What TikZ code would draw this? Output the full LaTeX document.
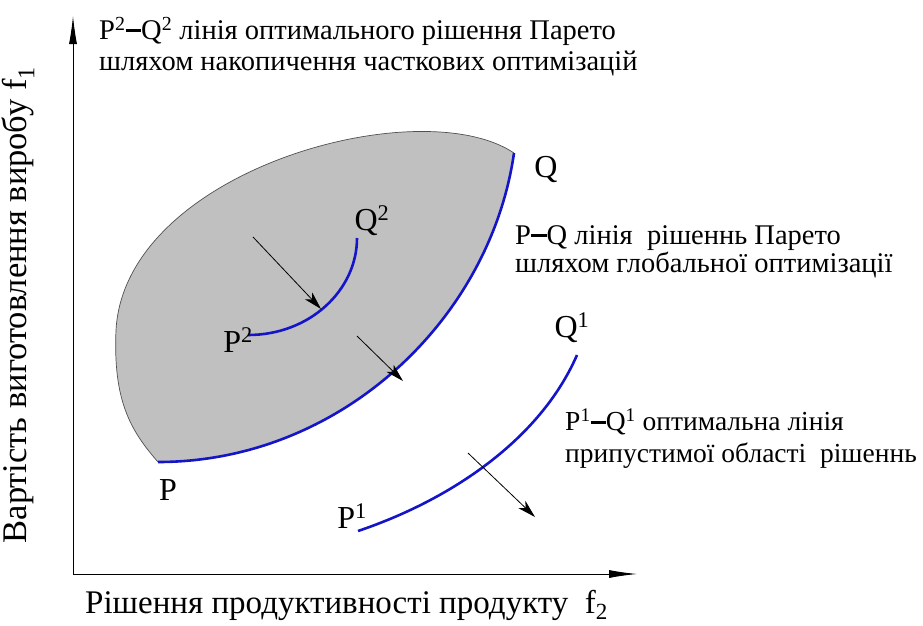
\documentclass[tikz,border=0pt]{standalone}
\usepackage{fontspec}
\setmainfont{Liberation Serif}
\usetikzlibrary{arrows.meta}
\definecolor{paretoblue}{RGB}{20,20,200}
\definecolor{regiongray}{RGB}{192,192,192}
\definecolor{edgegray}{RGB}{80,80,80}
\newcommand{\pqdash}{\rule[0.26em]{0.55em}{0.09em}}
\begin{document}
\begin{tikzpicture}[x=1pt,y=-1pt,
  lbl/.style={font=\fontsize{28.5}{31}\selectfont, inner sep=0pt},
  axlbl/.style={font=\fontsize{33}{36}\selectfont, inner sep=0pt},
  ptlbl/.style={font=\fontsize{32}{33}\selectfont, inner sep=0pt},
  axis/.style={line width=0.9pt, -{Latex[length=28pt,width=8pt]}},
  pareto/.style={draw=paretoblue, line width=2.6pt},
  push/.style={line width=0.8pt, -{Stealth[length=18pt,width=10pt,inset=5pt]}}]
\useasboundingbox (0,0) rectangle (923,625);
% axes
\coordinate (O) at (73,574);
\coordinate (Ytop) at (73,16);
\coordinate (Xend) at (637,574);
\draw[axis] (O) -- (Ytop);
\draw[axis] (O) -- (Xend);
% region
\coordinate (P) at (158,462);
\coordinate (Q) at (514,153);
\fill[regiongray]
  (Q) .. controls (420,90) and (125,170) .. (116,330)
      .. controls (113,400) and (130,430) .. (P)
      .. controls (340,462) and (490,320) .. (Q);
\draw[edgegray, line width=0.7pt]
  (Q) .. controls (420,90) and (125,170) .. (116,330)
      .. controls (113,400) and (130,430) .. (P);
\draw[pareto] (P) .. controls (340,462) and (490,320) .. (Q);
% P2-Q2
\coordinate (P2) at (248,335);
\coordinate (Q2) at (357,238);
\draw[pareto] (P2) .. controls (310,335) and (357,290) .. (Q2);
% P1-Q1
\coordinate (P1) at (358,531);
\coordinate (Q1) at (577,355);
\draw[pareto] (P1) .. controls (450,500) and (540,440) .. (Q1);
% push arrows
\coordinate (a1s) at (253,237); \coordinate (a1e) at (321,309);
\coordinate (a2s) at (357,336); \coordinate (a2e) at (403,381);
\coordinate (a3s) at (468,453); \coordinate (a3e) at (535,517);
\draw[push] (a1s) -- (a1e);
\draw[push] (a2s) -- (a2e);
\draw[push] (a3s) -- (a3e);
% point labels
\node[ptlbl, anchor=base] (lQ) at (546,177) {Q};
\node[ptlbl, anchor=base] (lP) at (168,500) {P};
\node[ptlbl, anchor=base] (lQ2) at (372,230) {Q\textsuperscript{2}};
\node[ptlbl, anchor=base] (lP2) at (238,352) {P\textsuperscript{2}};
\node[ptlbl, anchor=base] (lQ1) at (572,337) {Q\textsuperscript{1}};
\node[ptlbl, anchor=base] (lP1) at (352,528) {P\textsuperscript{1}};
% texts
\node[lbl, anchor=north west, align=left] (t2) at (99,17)
  {P\textsuperscript{2}\pqdash Q\textsuperscript{2} лінія оптимального рішення Парето\\шляхом накопичення часткових оптимізацій};
\node[lbl, anchor=north west, align=left, font=\fontsize{28.5}{28}\selectfont] (t0) at (515,225)
  {P\pqdash Q лінія \ рішеннь Парето\\шляхом глобальної оптимізації};
\node[lbl, anchor=north west, align=left, font=\fontsize{27.5}{32}\selectfont] (t1) at (565,409)
  {P\textsuperscript{1}\pqdash Q\textsuperscript{1} оптимальна лінія\\припустимої області \ рішеннь};
% axis labels
\node[axlbl, rotate=90, anchor=base, font=\fontsize{34.5}{36}\selectfont] (ylab) at (27,305) {Вартість виготовлення виробу f\textsubscript{1}};
\node[axlbl, anchor=base west] (xlab) at (85,613) {Рішення продуктивності продукту \ f\textsubscript{2}};
\end{tikzpicture}
\end{document}
